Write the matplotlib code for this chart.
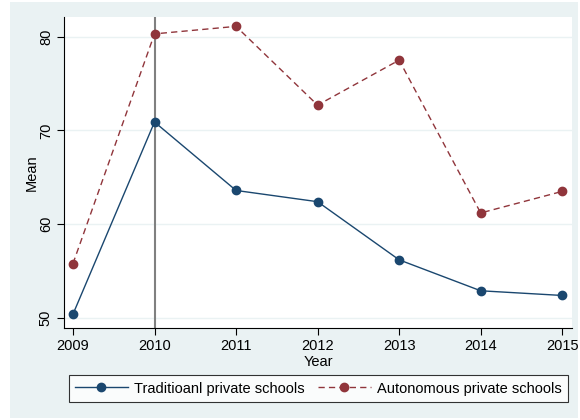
import numpy as np
import matplotlib.pyplot as plt
from matplotlib.patches import Rectangle

plt.rcParams['font.family'] = ['Liberation Sans', 'DejaVu Sans']

years = [2009, 2010, 2011, 2012, 2013, 2014, 2015]
traditional = [50.4, 70.9, 63.6, 62.4, 56.2, 52.9, 52.4]
autonomous = [55.8, 80.3, 81.1, 72.7, 77.5, 61.2, 63.5]
yticks = [50, 60, 70, 80]

navy = '#1A476F'
maroon = '#90353B'
bg = '#EAF2F3'

fig = plt.figure(figsize=(5.8, 4.2), dpi=100)
fig.patch.set_facecolor('white')
# stata graph region
fig.patches.append(Rectangle((10 / 580, 2 / 420), 568 / 580, 416 / 420,
                             transform=fig.transFigure, facecolor=bg,
                             edgecolor='none', zorder=-10))

ax = fig.add_axes([64 / 580, 1 - 328 / 420, 508 / 580, 311 / 420])
ax.set_facecolor('white')

ax.axvline(2010, color='#808080', lw=1.5, zorder=1)
ax.plot(years, traditional, color=navy, lw=1.0, marker='o', ms=6,
        label='Traditioanl private schools', zorder=3)
ax.plot(years, autonomous, color=maroon, lw=1.0, ls=(0, (4.5, 3)), marker='o',
        ms=6, label='Autonomous private schools', zorder=3)

ax.set_xlim(2008.89, 2015.12)
ax.set_ylim(48.93, 82.1)
ax.set_xticks(years)
ax.set_yticks(yticks)
ax.set_yticklabels([str(v) for v in yticks], rotation=90, va='center')
ax.grid(axis='y', color=bg, lw=1.0)
ax.set_axisbelow(True)

for s in ['top', 'right']:
    ax.spines[s].set_visible(False)
for s in ['left', 'bottom']:
    ax.spines[s].set_color('black')
    ax.spines[s].set_linewidth(0.8)
ax.tick_params(labelsize=10.5, length=5, width=0.8, color='black', pad=3)

ax.set_xlabel('Year', fontsize=10.5, labelpad=1)
ax.set_ylabel('Mean', fontsize=10.5, labelpad=0)

leg = fig.legend(loc='center', ncol=2,
                 bbox_to_anchor=(318.5 / 580, 1 - 388.5 / 420),
                 fontsize=10.5, frameon=True, fancybox=False,
                 handlelength=3.6, handletextpad=0.45, borderaxespad=0,
                 borderpad=0.45, columnspacing=0.9)
leg.get_frame().set_edgecolor('black')
leg.get_frame().set_linewidth(0.8)
leg.get_frame().set_facecolor('white')

fig.savefig('out.png', dpi=100, facecolor=fig.get_facecolor())
